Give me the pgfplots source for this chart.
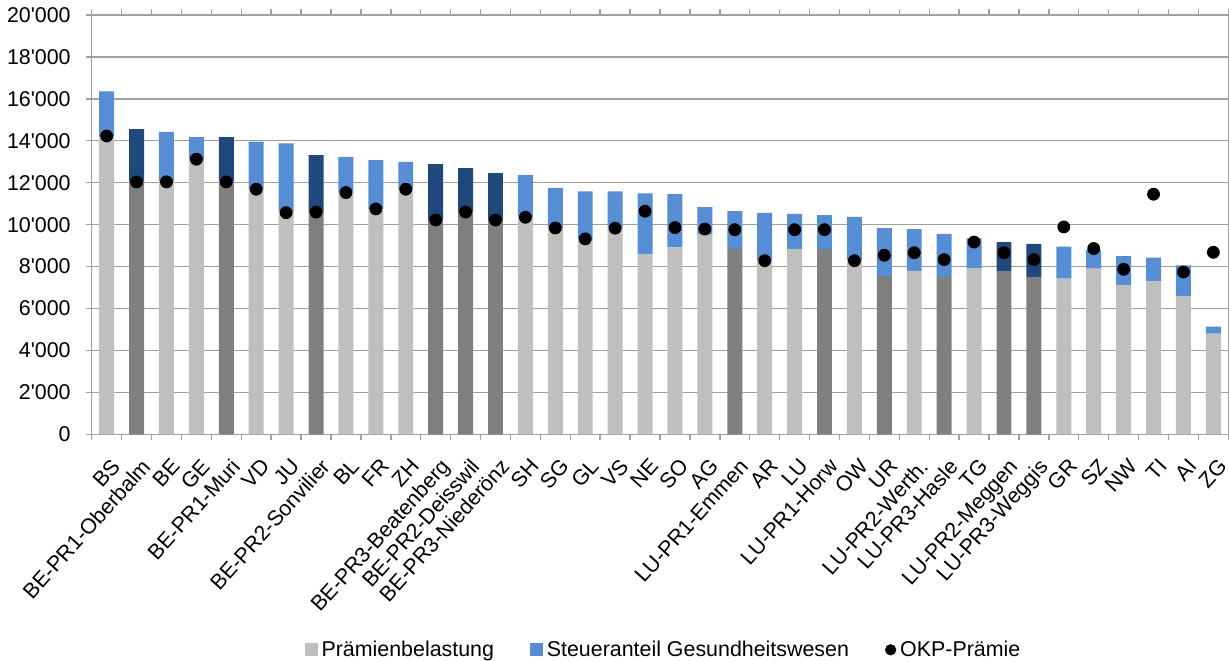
\documentclass[border=0pt]{standalone}
\usepackage{fontspec}
\setmainfont{Liberation Sans}
\usepackage{pgfplots}
\usepackage{pgfplotstable}
\pgfplotsset{compat=1.18}
\definecolor{lgray}{HTML}{BFBFBF}
\definecolor{dgray}{HTML}{7F7F7F}
\definecolor{lblue}{HTML}{558ED5}
\definecolor{dblue}{HTML}{1F497D}
\definecolor{gridc}{HTML}{A0A0A0}

% lg/dg: Prämienbelastung (light/dark), lb/db: Steueranteil (light/dark)
\pgfplotstableread{
x lg dg lb db okp
0 14200 0 2160 0 14230
1 0 12050 0 2510 12035
2 12050 0 2370 0 12040
3 13100 0 1080 0 13120
4 0 12050 0 2130 12040
5 11700 0 2260 0 11690
6 10580 0 3300 0 10570
7 0 10600 0 2720 10600
8 11530 0 1700 0 11530
9 10750 0 2330 0 10750
10 11700 0 1290 0 11690
11 0 10220 0 2670 10220
12 0 10600 0 2100 10600
13 0 10220 0 2240 10220
14 10350 0 2020 0 10350
15 9840 0 1910 0 9840
16 9320 0 2270 0 9320
17 9830 0 1760 0 9830
18 8600 0 2890 0 10640
19 8920 0 2540 0 9860
20 9520 0 1320 0 9790
21 0 8840 1810 0 9760
22 8280 0 2280 0 8280
23 8840 0 1670 0 9760
24 0 8840 1610 0 9760
25 8280 0 2090 0 8280
26 0 7540 2290 0 8540
27 7790 0 2000 0 8660
28 0 7500 2060 0 8330
29 7930 0 1420 0 9170
30 0 7790 0 1380 8660
31 0 7500 0 1580 8330
32 7420 0 1530 0 9890
33 7900 0 890 0 8860
34 7120 0 1380 0 7870
35 7310 0 1120 0 11450
36 6600 0 1460 0 7740
37 4800 0 340 0 8680
}\data

\begin{document}
\begin{tikzpicture}
\pgfplotsset{base/.style={
    width=568.3pt, height=209.65pt, scale only axis,
    xmin=-0.5, xmax=37.5, ymin=0, ymax=20000}}
\begin{axis}[
    base,
    ybar stacked,
    bar width=0.5,
    axis line style={gridc, line width=0.7pt},
    ymajorgrids,
    grid style={gridc, line width=0.7pt},
    ytick={0,2000,...,20000},
    xtick={0,...,37},
    xticklabels={BS,BE-PR1-Oberbalm,BE,GE,BE-PR1-Muri,VD,JU,BE-PR2-Sonvilier,BL,FR,ZH,BE-PR3-Beatenberg,BE-PR2-Deisswil,BE-PR3-Niederönz,SH,SG,GL,VS,NE,SO,AG,LU-PR1-Emmen,AR,LU,LU-PR1-Horw,OW,UR,LU-PR2-Werth.,LU-PR3-Hasle,TG,LU-PR2-Meggen,LU-PR3-Weggis,GR,SZ,NW,TI,AI,ZG},
    minor xtick={-0.5,0.5,...,37.5},
    tick align=outside,
    major tick length=3pt,
    minor tick length=3pt,
    major x tick style={draw=none},
    minor x tick style={gridc, line width=0.7pt},
    y tick style={gridc, line width=0.7pt},
    xticklabel shift=8.3pt,
    x tick label style={xshift=1.75pt, rotate=48, anchor=north east, inner sep=0pt,
        font=\fontsize{10.7}{12}\selectfont},
    y tick label style={font=\fontsize{10.7}{12}\selectfont, xshift=-4pt},
    /pgf/number format/assume math mode=true,
    /pgf/number format/1000 sep={\textquotesingle},
    scaled y ticks=false,
]
\addplot[fill=lgray, draw=none] table[x=x, y=lg]{\data};
\addplot[fill=dgray, draw=none] table[x=x, y=dg]{\data};
\addplot[fill=lblue, draw=none] table[x=x, y=lb]{\data};
\addplot[fill=dblue, draw=none] table[x=x, y=db]{\data};
\coordinate (bl) at (rel axis cs:0,0);
\coordinate (tr) at (rel axis cs:1,1);
\end{axis}
\begin{axis}[
    base,
    axis lines=none,
    legend style={at={(0.504,-0.514)}, anchor=center, draw=none, fill=none,
        legend columns=3, font=\fontsize{10.7}{12}\selectfont,
        /tikz/every even column/.append style={column sep=16pt}},
]
\addlegendimage{legend image code/.code={\fill[lgray] (0pt,-3pt) rectangle (6pt,3pt);}}
\addlegendimage{legend image code/.code={\fill[lblue] (0pt,-3pt) rectangle (6pt,3pt);}}
\addlegendimage{legend image code/.code={\fill[black] (3pt,0pt) circle (2.6pt);}}
\addplot[only marks, mark=*, mark size=3pt, black] table[x=x, y=okp]{\data};
\legend{Prämienbelastung, Steueranteil Gesundheitswesen, OKP-Prämie}
\end{axis}
\pgfresetboundingbox
\useasboundingbox ([xshift=-45.85pt, yshift=-113.35pt]bl) rectangle ([xshift=0.35pt, yshift=7.5pt]tr);
\end{tikzpicture}
\end{document}
